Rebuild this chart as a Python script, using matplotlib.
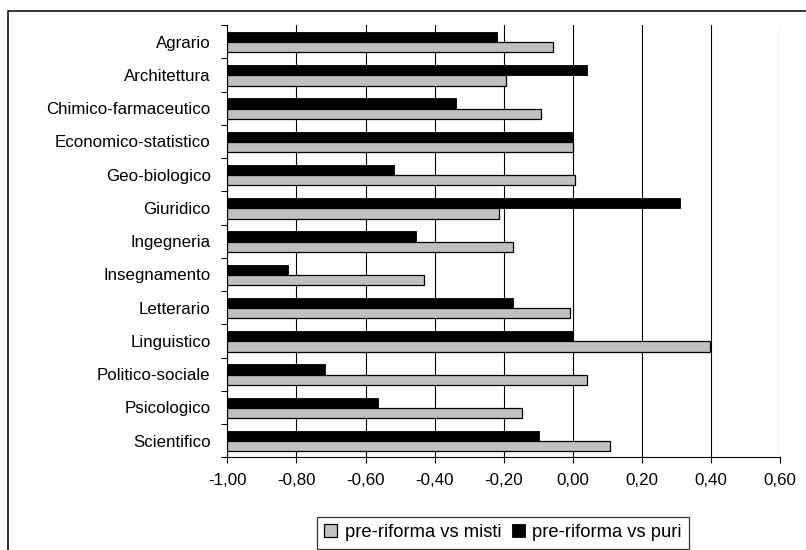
import matplotlib
matplotlib.use('Agg')
import matplotlib.pyplot as plt
from matplotlib.patches import Rectangle
from matplotlib.ticker import FuncFormatter, FixedLocator
import numpy as np

plt.rcParams['font.family'] = ['Liberation Sans', 'DejaVu Sans']

# dati
categorie = ['Agrario', 'Architettura', 'Chimico-farmaceutico', 'Economico-statistico',
             'Geo-biologico', 'Giuridico', 'Ingegneria', 'Insegnamento', 'Letterario',
             'Linguistico', 'Politico-sociale', 'Psicologico', 'Scientifico']
misti = [-0.058, -0.193, -0.093, 0.0, 0.005, -0.214, -0.173, -0.431, -0.009,
         0.398, 0.041, -0.147, 0.108]
puri = [-0.220, 0.042, -0.339, 0.0, -0.519, 0.310, -0.455, -0.825, -0.173,
        0.0, -0.718, -0.563, -0.097]
etichette_x = [-1.0, -0.8, -0.6, -0.4, -0.2, 0.0, 0.2, 0.4, 0.6]
base = -1.0  # le barre partono dal minimo dell'asse

W, H = 806, 550
fig = plt.figure(figsize=(W / 100, H / 100), dpi=100)
ax = fig.add_axes([227.3 / W, (H - 457.3) / H, (780.3 - 227.3) / W, (457.3 - 25) / H])

y = np.arange(len(categorie))
h = 0.31
b1 = ax.barh(y + 0.17, np.array(misti) - base, left=base, height=h, color='#c0c0c0',
             edgecolor='black', linewidth=0.9, label='pre-riforma vs misti', zorder=3)
b2 = ax.barh(y - 0.14, np.array(puri) - base, left=base, height=h, color='black',
             edgecolor='black', linewidth=0.6, label='pre-riforma vs puri', zorder=3)

ax.set_xlim(-1.0, 0.6)
ax.set_ylim(len(categorie) - 0.5, -0.5)

ax.xaxis.set_major_locator(FixedLocator(etichette_x))
ax.xaxis.set_major_formatter(FuncFormatter(lambda v, p: ('%.2f' % v).replace('.', ',').replace('-0,00', '0,00')))
ax.grid(axis='x', color='black', linewidth=0.8, zorder=1)
ax.tick_params(axis='x', direction='out', length=4, width=0.8, pad=7, labelsize=12.2)

ax.set_yticks(y)
ax.set_yticklabels(categorie)
ax.set_yticks(np.arange(len(categorie) + 1) - 0.5, minor=True)
ax.tick_params(axis='y', which='major', length=0, pad=12, labelsize=12.2)
ax.tick_params(axis='y', which='minor', direction='out', length=4, width=0.8)

for s in ['top', 'right']:
    ax.spines[s].set_visible(False)
ax.spines['left'].set_linewidth(0.8)
ax.spines['bottom'].set_linewidth(0.8)

# cornice esterna
fig.add_artist(Rectangle((8 / W, -0.1), 1.2, 0.1 + (H - 11) / H, transform=fig.transFigure,
                         fill=False, edgecolor='black', linewidth=1.1))

leg = fig.legend(handles=[b1, b2], loc='lower left', bbox_to_anchor=(316.7 / W, 1.0 / H),
                 ncol=2, frameon=True, fancybox=False, edgecolor='black', borderaxespad=0,
                 handlelength=0.7, handleheight=0.7, handletextpad=0.4, columnspacing=0.6,
                 borderpad=0.42, fontsize=13.2)
leg.get_frame().set_linewidth(0.9)

fig.savefig('out.png', dpi=100)
